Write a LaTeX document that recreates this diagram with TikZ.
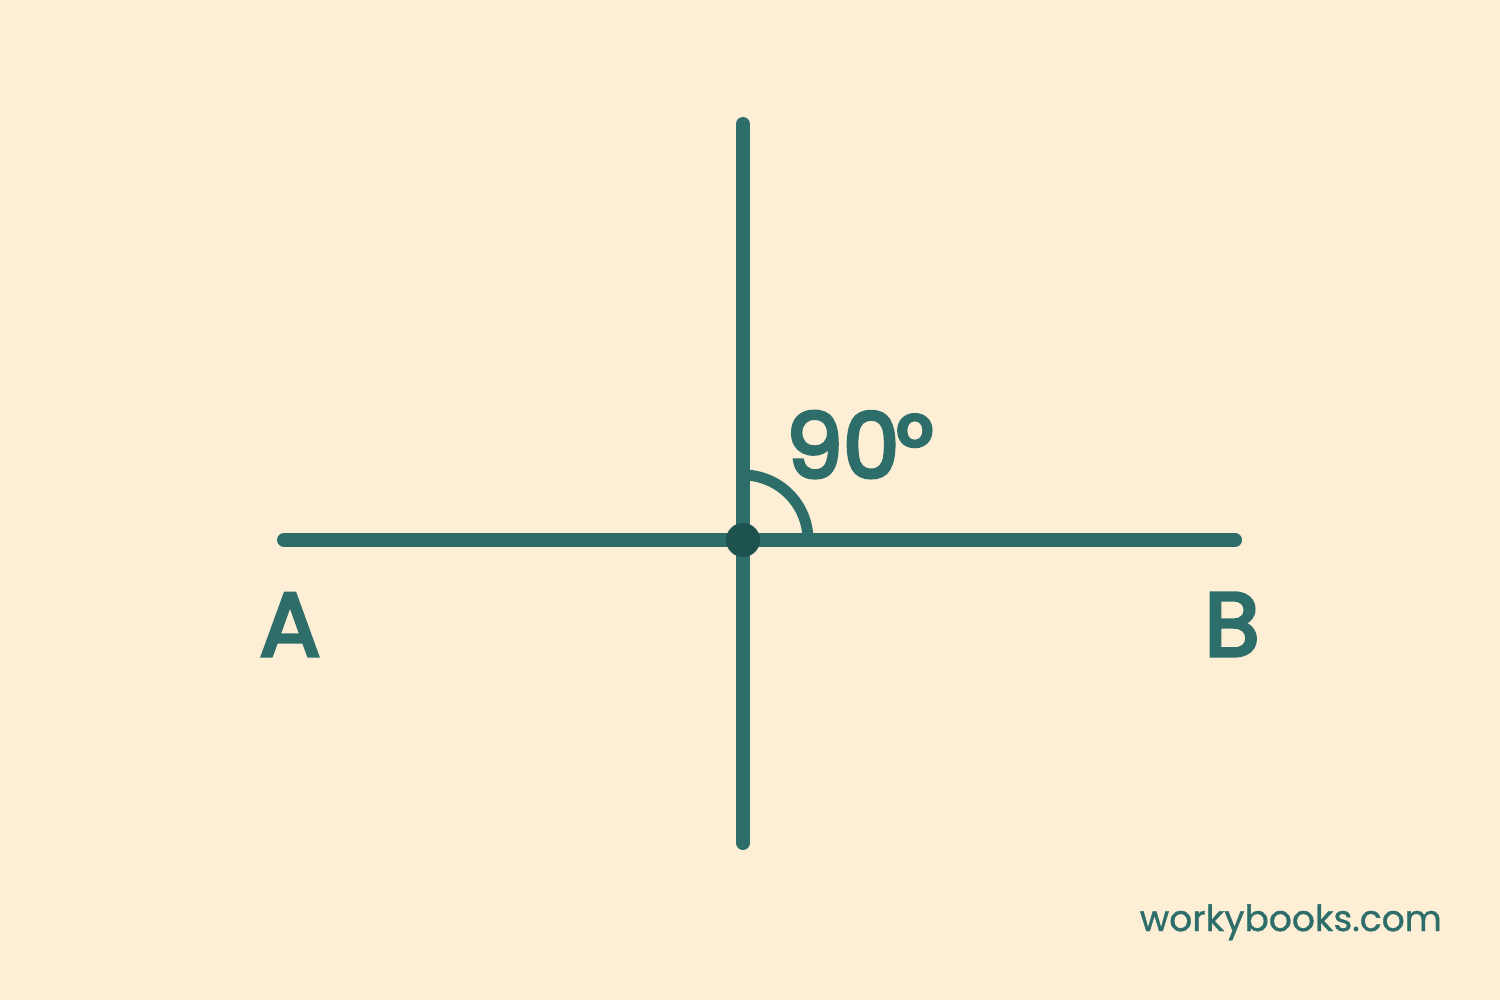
\documentclass[tikz,border=0pt]{standalone}
\usepackage{fontspec}
\newfontfamily\pop{Poppins}[FakeBold=1]
\newfontfamily\popm{Poppins}[FakeBold=4]
\definecolor{bg}{HTML}{FDEFD6}
\definecolor{teal}{HTML}{2E6E6A}
\definecolor{dteal}{HTML}{1E524F}
\begin{document}
\begin{tikzpicture}[x=1pt,y=-1pt,
  line/.style={draw=teal,line width=14pt,line cap=round},
  lbl/.style={text=teal,font=\popm\fontsize{90}{90}\selectfont,inner sep=0pt}]
\fill[bg] (0,0) rectangle (1500,1000);
\useasboundingbox (0,0) rectangle (1500,1000);
\coordinate (a) at (284,540);
\coordinate (b) at (1235,540);
\coordinate (t) at (743,124);
\coordinate (d) at (743,843);
\coordinate (o) at (743,540);
\draw[line] (a) -- (b);
\draw[line] (t) -- (d);
\draw[teal,line width=11pt] (808,540) arc[start angle=0,end angle=90,x radius=65,y radius=-65];
\fill[dteal] (o) circle (17);
\node[lbl,anchor=south west] (ang) at (786,478) {90\kern-3pt°};
\node[lbl,anchor=south] (la) at (290,656) {A};
\node[lbl,anchor=south] (lb) at (1232,656) {B};
\node[text=teal,font=\pop\fontsize{36}{36}\selectfont,anchor=base east,inner sep=0pt] (wm) at (1442,931) {workybooks.com};
\end{tikzpicture}
\end{document}
